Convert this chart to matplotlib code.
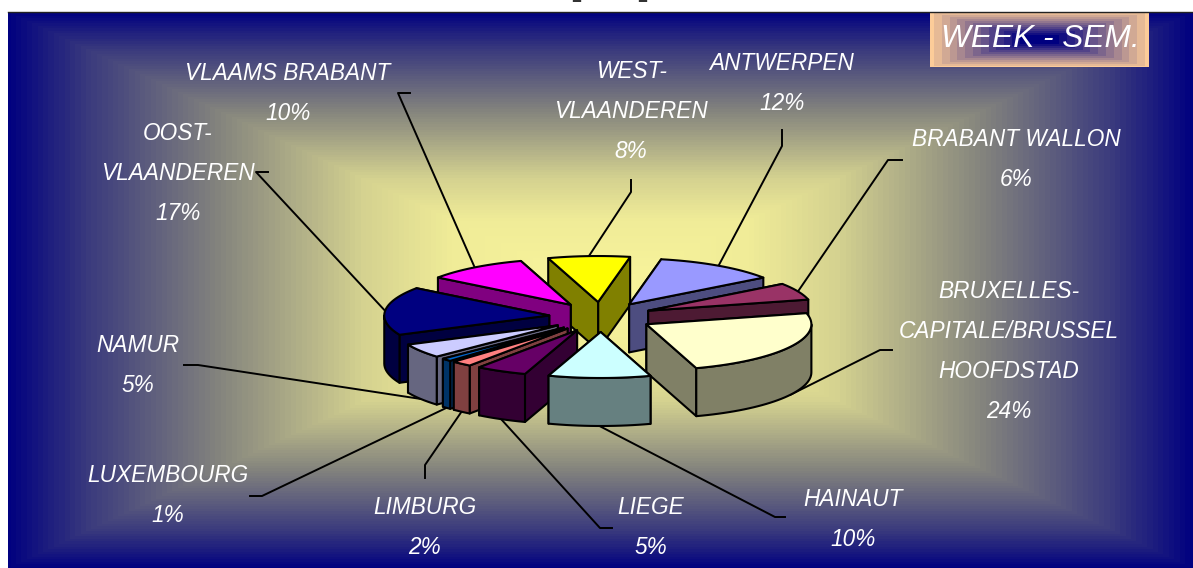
#!/usr/bin/env python3
# Exploded 3D-looking pie of the WEEK - SEM. share per province
import numpy as np
import matplotlib
matplotlib.use('Agg')
import matplotlib.pyplot as plt
from matplotlib.patches import Polygon

# Data, clockwise from the top slice
provinces = ['WEST-\nVLAANDEREN', 'ANTWERPEN', 'BRABANT WALLON',
             'BRUXELLES-\nCAPITALE/BRUSSEL\nHOOFDSTAD', 'HAINAUT', 'LIEGE',
             'LIMBURG', 'LUXEMBOURG', 'NAMUR', 'OOST-\nVLAANDEREN',
             'VLAAMS BRABANT']
shares = [8, 12, 6, 24, 10, 5, 2, 1, 5, 17, 10]
colors = ['#ffff00', '#9999ff', '#993366', '#ffffcc', '#ccffff', '#660066',
          '#ff8080', '#0066cc', '#ccccff', '#000080', '#ff00ff']

# Label centre (x, y of first line) and elbow of the leader line, in pixels
label_pos = [(631, 72), (782, 63), (1016, 139), (1009, 291), (853, 499), (651, 508),
             (425, 508), (168, 476), (138, 346), (178, 133), (288, 74)]
elbows = [[(631, 180), (631, 192)], [(782, 130), (782, 146)], [(902, 160), (888, 160)],
          [(892, 350), (880, 350)], [(785, 517), (775, 517)], [(612, 528), (600, 528)],
          [(425, 478), (425, 465)], [(250, 496), (262, 496)], [(184, 365), (198, 365)],
          [(268, 172), (256, 172)], [(410, 93), (398, 93)]]

W, H = 1193, 568
CX, CY = 601, 317      # pie centre
RX, RY = 165, 46       # pie radius on screen
EX, EY = 52, 15        # explosion offset
DEPTH = 48
START = -17.6          # degrees clockwise from the top
LINE = 40              # label line spacing
FONT = 'Liberation Sans'

fig = plt.figure(figsize=(W / 100, H / 100), dpi=100)
ax = fig.add_axes([0, 0, 1, 1])
ax.set_xlim(0, W)
ax.set_ylim(H, 0)
ax.axis('off')


def rect_gradient(x0, x1, y0, y1, steps, stops):
    # rectangular "path" gradient, with fine bands like the original
    xx, yy = np.meshgrid(np.arange(x0, x1) + 0.5, np.arange(y0, y1) + 0.5)
    t = np.maximum(np.abs(xx - (x0 + x1) / 2) / ((x1 - x0) / 2),
                   np.abs(yy - (y0 + y1) / 2) / ((y1 - y0) / 2))
    t = np.round(t * steps) / steps
    img = np.dstack([np.interp(t, stops[0], stops[c]) for c in (1, 2, 3)]) / 255
    ax.imshow(img, extent=(x0, x1, y1, y0), interpolation='nearest', aspect='auto', zorder=0)


# Background
rect_gradient(8, W, 12, H, 110, [[0, 0.25, 0.4, 0.65, 0.86, 1],
                                 [249, 240, 213, 130, 60, 0],
                                 [245, 236, 210, 130, 60, 0],
                                 [156, 152, 144, 125, 125, 128]])
ax.plot([8, W], [11.5, 11.5], color='#222222', lw=1)
ax.set_xlim(0, W)
ax.set_ylim(H, 0)

# the cropped title only leaves two small stubs at the very top
for x in (577, 643):
    ax.plot([x, x], [0, 2], color='#333333', lw=6, solid_capstyle='butt')


def point(angle):
    a = np.radians(angle)
    return np.sin(a), -np.cos(a)


def face(pts, color, z):
    ax.add_patch(Polygon(pts, closed=True, facecolor=color, edgecolor='black',
                         lw=1.5, joinstyle='round', zorder=z))


def drop(pts):
    return [(x, y + DEPTH) for x, y in pts][::-1]


def rim(apex, a0, a1):
    pts = []
    for ang in np.linspace(a0, a1, max(int(abs(a1 - a0) / 2), 6)):
        sx, sy = point(ang)
        pts.append((apex[0] + RX * sx, apex[1] + RY * sy))
    return pts


# Slices
edges = START + 3.6 * np.concatenate([[0], np.cumsum(shares)])
mids = (edges[:-1] + edges[1:]) / 2
order = np.argsort(-np.cos(np.radians(mids)))
anchors = {}
z = 2
for i in order:
    ux, uy = point(mids[i])
    apex = (CX + EX * ux, CY + EY * uy)
    arc = rim(apex, edges[i], edges[i + 1])
    side = tuple(c * 0.5 for c in matplotlib.colors.to_rgb(colors[i]))

    # cut faces first, far one before near one
    for end in sorted([arc[0], arc[-1]], key=lambda p: p[1]):
        face([apex, end, (end[0], end[1] + DEPTH), (apex[0], apex[1] + DEPTH)], side, z)
        z += 0.1
    # outer wall: only the part of the rim that faces the viewer
    a0, a1 = max(edges[i], 90), min(edges[i + 1], 270)
    if a1 > a0:
        front = rim(apex, a0, a1)
        face(front + drop(front), side, z)
    face([apex] + arc, colors[i], z + 0.1)
    z += 1

    # leader line ends on the middle of the rim, lower edge for the front slices
    px, py = apex[0] + RX * ux, apex[1] + RY * uy
    anchors[i] = (px, py + DEPTH if uy > 0 else py)

# Leader lines and labels
for i, name in enumerate(provinces):
    path = elbows[i] + [anchors[i]]
    ax.plot([p[0] for p in path], [p[1] for p in path], color='black', lw=1.4, zorder=1)
    x, y = label_pos[i]
    for line in name.split('\n') + ['%d%%' % shares[i]]:
        ax.text(x, y, line, color='white', style='italic', family=FONT, fontsize=16.3,
                ha='center', va='center', zorder=50)
        y += LINE

# WEEK - SEM. box
rect_gradient(930, 1149, 12, 67, 14, [[0, 0.15, 1], [0, 0, 252], [0, 0, 204], [128, 128, 153]])
ax.set_xlim(0, W)
ax.set_ylim(H, 0)
ax.text(1040, 39, 'WEEK - SEM.', color='white', style='italic', family=FONT,
        fontsize=22.8, ha='center', va='center', zorder=50)

fig.savefig('out.png', dpi=100)
